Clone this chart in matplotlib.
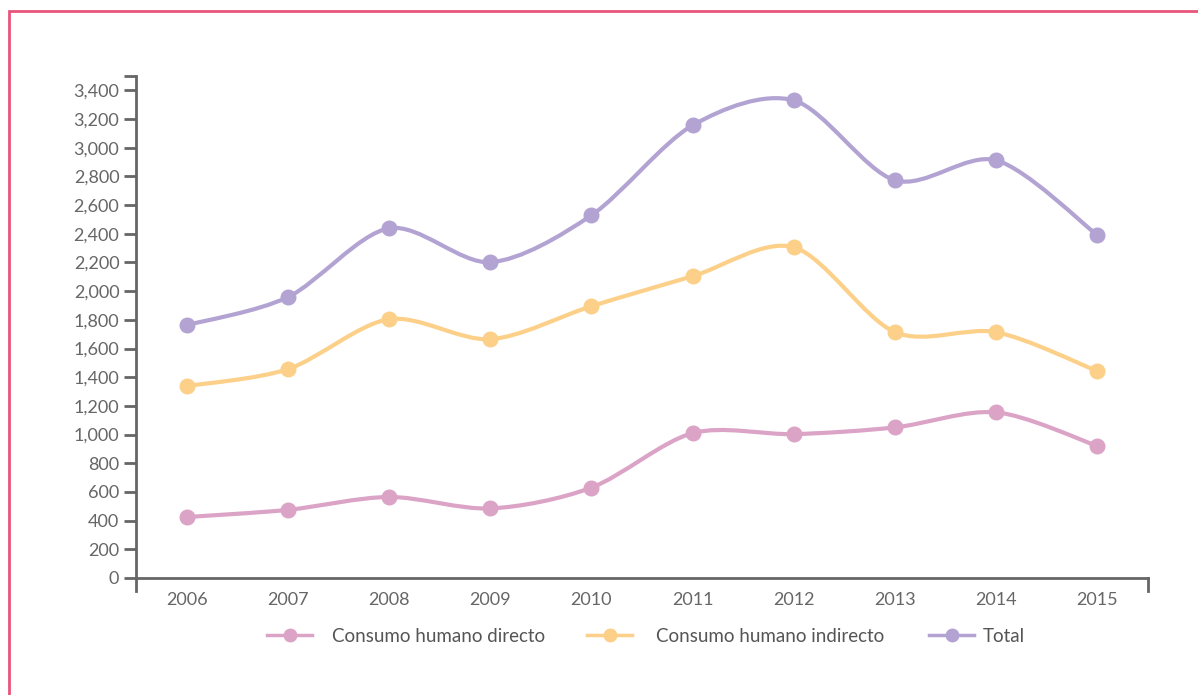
import numpy as np
import matplotlib
matplotlib.use("Agg")
import matplotlib.pyplot as plt
from matplotlib.path import Path
from matplotlib.patches import PathPatch, Rectangle
from matplotlib.lines import Line2D

# datos
anios = ['2006', '2007', '2008', '2009', '2010', '2011', '2012', '2013', '2014', '2015']
directo = [425, 475, 565, 485, 630, 1010, 1003, 1050, 1155, 920]
indirecto = [1338, 1456, 1804, 1665, 1895, 2104, 2306, 1714, 1714, 1442]
total = [1763, 1958, 2438, 2202, 2529, 3156, 3330, 2773, 2912, 2390]
nombres = ['Consumo humano directo', 'Consumo humano indirecto', 'Total']
colores = ['#DBA3C6', '#FCD089', '#B3A3D3']

plt.rcParams['font.family'] = ['Lato', 'DejaVu Sans']
gris = '#666666'

fig = plt.figure(figsize=(11.98, 6.95), dpi=100)
# marco rosa
fig.patches.append(Rectangle((9 / 1198, -0.1), 1.2, 1 - 11 / 695 + 0.1,
                             transform=fig.transFigure, fill=False,
                             edgecolor='#E8557C', linewidth=2))

ax = fig.add_axes([136 / 1198, 1 - 578 / 695, (1148 - 136) / 1198, (578 - 76) / 695])


def curva_suave(xs, ys, t=0.15):
    # bezier tipo catmull-rom, como el suavizado de excel
    pts = np.column_stack([xs, ys]).astype(float)
    verts = [pts[0]]
    codes = [Path.MOVETO]
    n = len(pts)
    for i in range(n - 1):
        p0 = pts[i - 1] if i > 0 else pts[i]
        p1 = pts[i]
        p2 = pts[i + 1]
        p3 = pts[i + 2] if i + 2 < n else pts[i + 1]
        c1 = p1 + (p2 - p0) * t
        c2 = p2 - (p3 - p1) * t
        verts += [c1, c2, p2]
        codes += [Path.CURVE4] * 3
    return Path(verts, codes)


x = np.arange(len(anios))
k = 3500 / 502 * 101.2  # unidades por categoria en pixeles equivalentes
for serie, col in zip([directo, indirecto, total], colores):
    ys = np.array(serie) / k
    p = curva_suave(x, ys)
    p = Path(p.vertices * [1, k], p.codes)
    ax.add_patch(PathPatch(p, facecolor='none', edgecolor=col, linewidth=3, capstyle='round'))
    ax.plot(x, serie, linestyle='none', marker='o', markersize=10.5, color=col, zorder=3)

ax.set_xlim(-0.5, len(anios) - 0.5)
ax.set_ylim(0, 3500)
ax.set_yticks(list(range(0, 3401, 200)) + [3500])
ax.set_yticklabels([f'{v:,}' for v in range(0, 3401, 200)] + [''])
ax.set_xticks(x)
ax.set_xticklabels(anios)
ax.tick_params(axis='x', length=0, pad=10, labelsize=13, labelcolor=gris)
ax.tick_params(axis='y', length=9, width=2, color=gris, pad=3, labelsize=13, labelcolor=gris)
for s in ['top', 'right']:
    ax.spines[s].set_visible(False)
for s in ['left', 'bottom']:
    ax.spines[s].set_color(gris)
    ax.spines[s].set_linewidth(2)
# marcas en los extremos del eje x
ax.plot([-0.5, -0.5], [0, -0.025], transform=ax.get_xaxis_transform(), color=gris, lw=2, clip_on=False)
ax.plot([9.5, 9.5], [0, -0.025], transform=ax.get_xaxis_transform(), color=gris, lw=2, clip_on=False)

# leyenda: una entrada por posicion
inicio = [267, 587, 929]
separacion = [1.05, 1.3, 0.45]
for nom, col, x0, sep in zip(nombres, colores, inicio, separacion):
    h = Line2D([], [], color=col, linewidth=2.5, marker='o', markersize=9)
    leg = fig.legend([h], [nom], loc='center left', bbox_to_anchor=(x0 / 1198, 1 - 636 / 695),
                     frameon=False, fontsize=13.5, handlelength=2.4, handletextpad=sep,
                     borderpad=0, borderaxespad=0)
    leg.get_texts()[0].set_color('#555555')

fig.savefig('out.png', dpi=100)
